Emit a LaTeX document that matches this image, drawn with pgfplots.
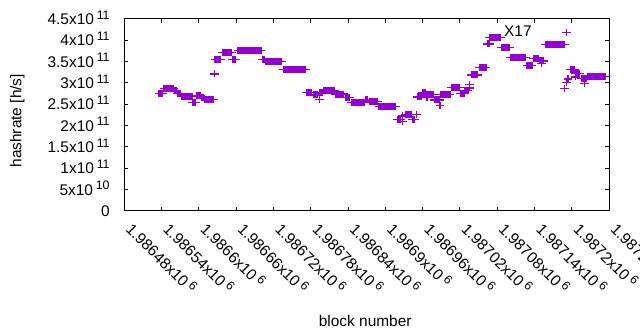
\documentclass[border=0pt]{standalone}
\usepackage{pgfplots}
\pgfplotsset{compat=1.18}
\usepackage{pgfplotstable}
\usepackage{fontspec}
\setmainfont{Liberation Sans}
\usetikzlibrary{calc}
\definecolor{gp}{HTML}{9400D3}
\newcommand\sx[1]{\kern2.8bp\raisebox{5.2bp}{\fontsize{12.4}{12}\selectfont #1}}

% b = block number - 1986000 ; h = hashrate [h/s]
% runs of equal hashrate: first and last block of each run, runs separated by nan
\pgfplotstableread{
b h
536 275.9e9
541 275.9e9
nan nan
544 287.6e9
559 287.6e9
nan nan
561 281.3e9
564 281.3e9
nan nan
566 275.4e9
570 275.4e9
nan nan
573 268.9e9
589 268.9e9
nan nan
590 254.3e9
595 254.3e9
nan nan
597 269.6e9
602 269.6e9
nan nan
604 266.0e9
608 266.0e9
nan nan
610 261.4e9
623 261.4e9
nan nan
625 321.1e9
nan nan
626 355.6e9
635 355.6e9
nan nan
638 371.5e9
653 371.5e9
nan nan
654 355.6e9
659 355.6e9
nan nan
663 376.7e9
700 376.7e9
nan nan
702 355.6e9
706 355.6e9
nan nan
708 350.4e9
733 350.4e9
nan nan
736 332.1e9
772 332.1e9
nan nan
773 278.2e9
781 278.2e9
nan nan
784 271.9e9
790 271.9e9
nan nan
794 261.8e9
nan nan
795 276.6e9
798 276.6e9
nan nan
801 283.2e9
818 283.2e9
nan nan
820 274.2e9
833 274.2e9
nan nan
836 266.5e9
843 266.5e9
nan nan
845 254.8e9
867 254.8e9
nan nan
869 260.2e9
872 260.2e9
nan nan
874 257.1e9
888 257.1e9
nan nan
890 244.9e9
916 244.9e9
nan nan
919 215.2e9
924 215.2e9
nan nan
928 222.7e9
nan nan
928 209.8e9
nan nan
932 226.9e9
942 226.9e9
nan nan
944 215.2e9
947 215.2e9
nan nan
950 226.9e9
nan nan
952 267.2e9
958 267.2e9
nan nan
960 278.2e9
965 278.2e9
nan nan
967 266.0e9
nan nan
967 273.5e9
978 273.5e9
nan nan
979 260.2e9
987 260.2e9
nan nan
988 247.3e9
nan nan
989 273.5e9
1004 273.5e9
nan nan
1006 289.5e9
1019 289.5e9
nan nan
1021 275.4e9
1027 275.4e9
nan nan
1028 282.5e9
1033 282.5e9
nan nan
1035 288.3e9
nan nan
1036 296.5e9
nan nan
1039 318.8e9
1049 318.8e9
nan nan
1051 336.8e9
1062 336.8e9
nan nan
1064 391.4e9
1067 391.4e9
nan nan
1068 407.2e9
1085 407.2e9
nan nan
1087 383.7e9
1100 383.7e9
nan nan
1101 360.3e9
1125 360.3e9
nan nan
1128 341.1e9
1136 341.1e9
nan nan
1138 357.9e9
1146 357.9e9
nan nan
1148 351.6e9
1154 351.6e9
nan nan
1152 345.7e9
nan nan
1158 390.7e9
1188 390.7e9
nan nan
1189 287.6e9
nan nan
1191 418.9e9
nan nan
1192 301.2e9
nan nan
1194 309.4e9
nan nan
1198 331.7e9
1204 331.7e9
nan nan
1206 322.8e9
1213 322.8e9
nan nan
1206 314.1e9
nan nan
1216 311.0e9
1224 311.0e9
nan nan
1220 298.9e9
nan nan
1226 314.8e9
1254 314.8e9
}\runs

\begin{document}
\begin{tikzpicture}[font=\fontsize{15.5}{18}\selectfont]
\begin{axis}[
  name=ax, at={(0,0)}, anchor=south west,
  scale only axis, width=484.7bp, height=192bp,
  xmin=480, xmax=1260, ymin=0, ymax=4.5e11,
  axis line style={line width=1bp, black},
  every tick/.style={black, line width=1bp},
  major tick length=4bp, tick align=inside, xtick pos=both, ytick pos=both,
  xtick={480,540,600,660,720,780,840,900,960,1020,1080,1140,1200,1260},
  xticklabels={1.98648x10\sx{6},1.98654x10\sx{6},1.9866x10\sx{6},1.98666x10\sx{6},1.98672x10\sx{6},1.98678x10\sx{6},1.98684x10\sx{6},1.9869x10\sx{6},1.98696x10\sx{6},1.98702x10\sx{6},1.98708x10\sx{6},1.98714x10\sx{6},1.9872x10\sx{6},1.98726x10\sx{6}},
  ytick={0,5e10,1e11,1.5e11,2e11,2.5e11,3e11,3.5e11,4e11,4.5e11},
  yticklabels={0,5x10\sx{10},1x10\sx{11},1.5x10\sx{11},2x10\sx{11},2.5x10\sx{11},3x10\sx{11},3.5x10\sx{11},4x10\sx{11},4.5x10\sx{11}},
  scaled ticks=false,
  yticklabel style={inner sep=0pt, anchor=base east, xshift=-14.5bp, yshift=-5.5bp},
  xticklabel style={inner sep=0pt, xshift=0.7bp, yshift=-19.6bp, rotate=-45, anchor=base west},
  xlabel={block number}, ylabel={hashrate [h/s]},
  xlabel style={at={(axis description cs:0.497,-0.599)}, anchor=base},
  ylabel style={at={(axis description cs:-0.2208,0.47)}, anchor=center, rotate=0},
  unbounded coords=jump,
]
\addplot[gp, line width=7bp, line cap=butt, no marks] table[x=b, y=h] {\runs};
\addplot[gp, only marks, mark=+, mark size=3.5bp, mark options={line width=1.2bp, xscale=1.28}] table[x=b, y=h] {\runs};
\node[anchor=west, inner sep=0pt] at (axis cs:1091,4.203e11) {X17};
\end{axis}
\pgfresetboundingbox
\path[use as bounding box] ($(ax.south west)+(-124.3bp,-119bp)$) rectangle ($(ax.north east)+(31bp,19bp)$);
\end{tikzpicture}
\end{document}
